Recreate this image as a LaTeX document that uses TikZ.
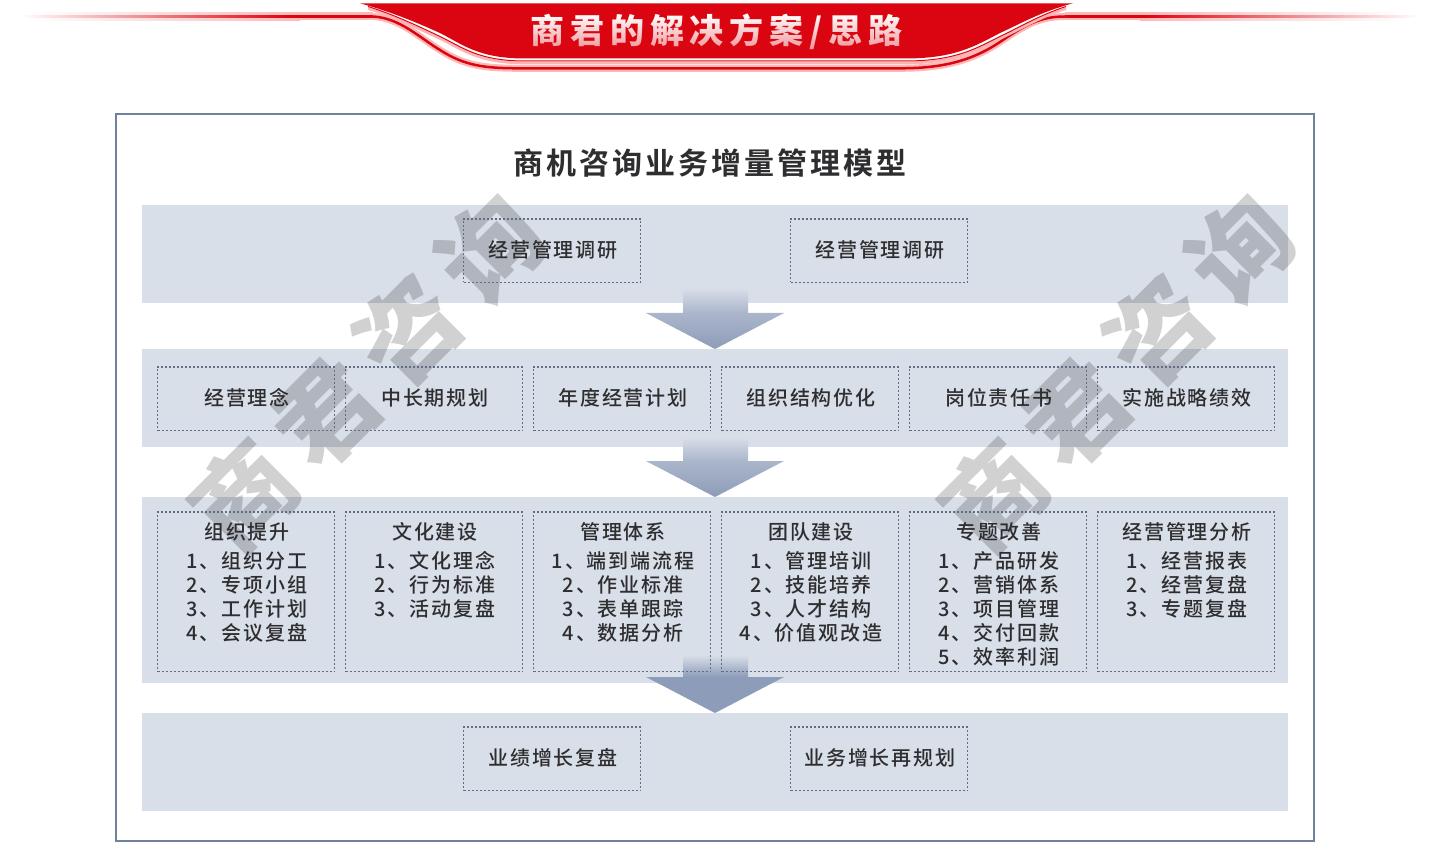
\documentclass[tikz,border=0pt]{standalone}
\usepackage{fontspec}
\usetikzlibrary{calc,fadings}
\newfontfamily\lbl[LetterSpace=9]{Noto Sans CJK SC Medium}
\newfontfamily\ttl[LetterSpace=10]{Noto Sans CJK SC Bold}
\newfontfamily\hdr[LetterSpace=17.5]{Noto Sans CJK SC Black}
\newfontfamily\wm[LetterSpace=16]{Noto Sans CJK SC Black}
\definecolor{panelc}{HTML}{D9DFE9}
\definecolor{framec}{HTML}{6F819C}
\definecolor{dotc}{HTML}{5F6E87}
\definecolor{redc}{HTML}{DA0510}
\definecolor{txtc}{HTML}{2E2E30}
\definecolor{arrowc}{HTML}{8D9CB8}
\definecolor{arrowm}{HTML}{ABB6CB}
\tikzfading[name=txtfade,top color=transparent!100,bottom color=transparent!58]
\tikzset{
 x=1pt,y=-1pt,
 panel/.style={fill=panelc,draw=none},
 dotbox/.style={draw=dotc,line width=1.5pt,dash pattern=on 2pt off 2pt,minimum width=177pt,minimum height=63.5pt,inner sep=0pt,outer sep=0pt,anchor=north west,text=txtc,font=\lbl\fontsize{20}{24}\selectfont,align=center,execute at begin node={\hspace*{1.8pt}}},
 tallbox/.style={dotbox,minimum height=159.5pt},
 listtext/.style={anchor=north,inner sep=0pt,text=txtc,font=\lbl\fontsize{20}{24}\selectfont,align=center},
 wmark/.style={text=black,text opacity=0.18,font=\wm\fontsize{100}{100}\selectfont,rotate=45,inner sep=0pt},
}
\newcommand{\lift}[1]{\raisebox{0.8pt}[\height][\depth]{#1}}
\newcommand{\downarrowshape}[5]{% shaft top, head top, tip, shaft bottom colour, head top colour
 \shade[top color=panelc,bottom color=#4] (683,#1) rectangle (748,#2);
 \shade[top color=#5,bottom color=arrowc] (646,#2) -- (784,#2) -- (715,#3) -- cycle;
}
\begin{document}
\begin{tikzpicture}
\useasboundingbox (0,0) rectangle (1435,842);
\fill[white] (0,0) rectangle (1435,842);
% header lines: soft glow and core
\shade[left color=white,right color=red!28] (30,12.5) rectangle (300,20.5);
\fill[red!28] (300,12.5) rectangle (373,20.5);
\shade[left color=red!28,right color=white] (1140,12.5) rectangle (1405,20.5);
\fill[red!28] (1065,12.5) rectangle (1140,20.5);
\shade[left color=white,right color=redc] (20,15.3) rectangle (290,17.7);
\fill[redc] (290,15.3) rectangle (373,17.7);
\shade[left color=redc,right color=white] (1145,15.3) rectangle (1420,17.7);
\fill[redc] (1065,15.3) rectangle (1145,17.7);
% lower wave
\def\wave{(373,16.5) .. controls (400,18) and (420,38) .. (440,50) .. controls (465,66) and (485,68.3) .. (520,68.3) -- (900,68.3) .. controls (940,68.3) and (970,62) .. (1000,42) .. controls (1025,25) and (1040,16.5) .. (1065,16.5)}
\draw[red!28,line width=7pt] \wave;
\draw[redc,line width=2.5pt] \wave;
% thin wave next to the banner
\def\thinwave{(368,6.5) .. controls (395,15) and (420,27) .. (440,36.5) .. controls (462,47) and (478,61) .. (525,61) -- (905,61) .. controls (955,61) and (975,49) .. (1000,36.5) .. controls (1020,27) and (1040,15) .. (1066,6.5)}
\draw[white,line width=5pt] \thinwave;
\draw[red!30,line width=2.6pt,shift={(0,2)}] \thinwave;
\draw[redc,line width=1pt] \thinwave;
% banner
\fill[redc] (360,3.3) -- (1073,3.3) .. controls (1040,12) and (1020,24) .. (1000,33) .. controls (975,46) and (955,58.5) .. (905,58.5) -- (525,58.5) .. controls (478,58.5) and (462,44) .. (440,33) .. controls (420,24) and (395,13) .. (360,3.3) -- cycle;
\node (bannertitle) [inner sep=0pt,text=white,font=\hdr\fontsize{34}{34}\selectfont] at (716.5,32) {商君的解决方案/思路};
\fill[redc,path fading=txtfade] (525,14) rectangle (910,50);
% frame
\draw[framec,line width=2pt] (116,114) rectangle (1314,841);
\node (maintitle) [inner sep=0pt,text=txtc,font=\ttl\fontsize{30}{30}\selectfont] at (709.5,163) {商机咨询业务增量管理模型};
% panels
\fill[panel] (142,205) rectangle (1288,303);
\fill[panel] (142,349) rectangle (1288,447);
\fill[panel] (142,497) rectangle (1288,683);
\fill[panel] (142,713) rectangle (1288,811);
% watermarks
\node (wmleft) [wmark] at (367,372) {商君咨询};
\node (wmright) [wmark] at (1117,372) {商君咨询};
% arrows
\downarrowshape{288}{313}{349}{arrowm}{arrowm}
\downarrowshape{437}{461}{497}{arrowm}{arrowm}
\downarrowshape{655}{677}{713}{arrowc}{arrowc}
% row 1
\node (a1) [dotbox] at (463.5,219) {\lift{经营管理调研}};
\node (a2) [dotbox] at (790.5,219) {\lift{经营管理调研}};
% row 2
\node (b1) [dotbox] at (157.5,367) {\lift{经营理念}};
\node (b2) [dotbox] at (345.5,367) {\lift{中长期规划}};
\node (b3) [dotbox] at (533.5,367) {\lift{年度经营计划}};
\node (b4) [dotbox] at (721.5,367) {\lift{组织结构优化}};
\node (b5) [dotbox] at (909.5,367) {\lift{岗位责任书}};
\node (b6) [dotbox] at (1097.5,367) {\lift{实施战略绩效}};
% row 3
\node (c1) [tallbox] at (157.5,512) {};
\node (c2) [tallbox] at (345.5,512) {};
\node (c3) [tallbox] at (533.5,512) {};
\node (c4) [tallbox] at (721.5,512) {};
\node (c5) [tallbox] at (909.5,512) {};
\node (c6) [tallbox] at (1097.5,512) {};
\node (t1) [listtext] at (247,522) {组织提升\\[5pt]1、组织分工\\2、专项小组\\3、工作计划\\4、会议复盘};
\node (t2) [listtext] at (435,522) {文化建设\\[5pt]1、文化理念\\2、行为标准\\3、活动复盘};
\node (t3) [listtext] at (623,522) {管理体系\\[5pt]1、端到端流程\\2、作业标准\\3、表单跟踪\\4、数据分析};
\node (t4) [listtext] at (811,522) {团队建设\\[5pt]1、管理培训\\2、技能培养\\3、人才结构\\4、价值观改造};
\node (t5) [listtext] at (999,522) {专题改善\\[5pt]1、产品研发\\2、营销体系\\3、项目管理\\4、交付回款\\5、效率利润};
\node (t6) [listtext] at (1187,522) {经营管理分析\\[5pt]1、经营报表\\2、经营复盘\\3、专题复盘};
% row 4
\node (d1) [dotbox] at (463.5,727) {\lift{业绩增长复盘}};
\node (d2) [dotbox] at (790.5,727) {\lift{业务增长再规划}};
\end{tikzpicture}
\end{document}
